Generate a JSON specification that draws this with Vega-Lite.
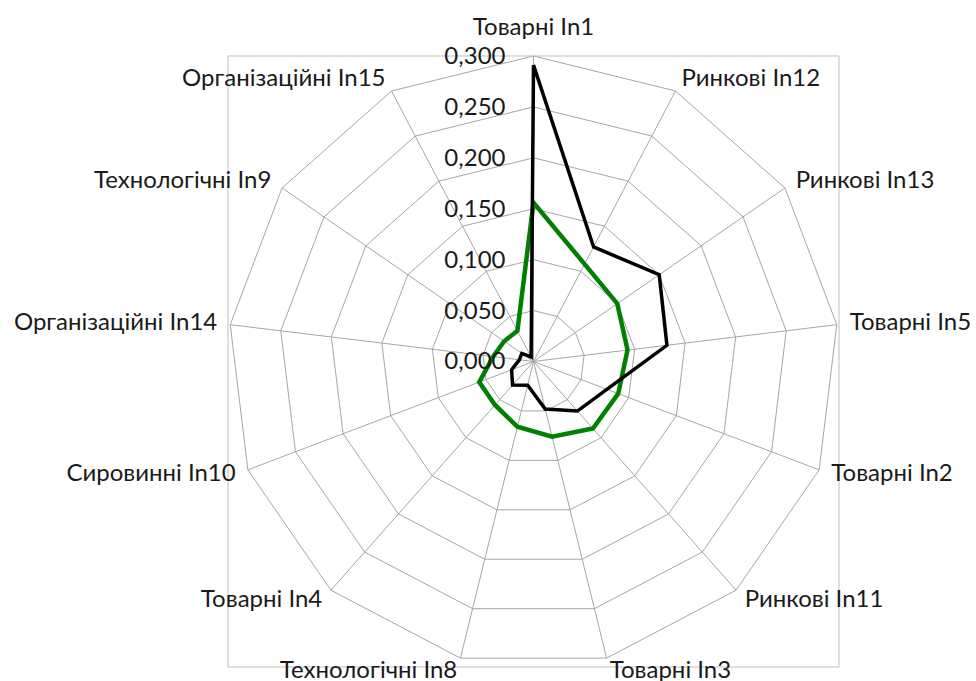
{
  "$schema": "https://vega.github.io/schema/vega-lite/v6.json",
  "width": 976,
  "height": 681,
  "autosize": {"type": "none"},
  "padding": 0,
  "background": "white",
  "config": {
    "view": {"stroke": null},
    "locale": {"number": {"decimal": ",", "thousands": " ", "grouping": [3], "currency": ["", ""]}},
    "text": {"font": "Lato", "fontSize": 24, "color": "#1a1a1a"}
  },
  "datasets": {
    "axes": [
      {"k": 0, "label": "Товарні In1"},
      {"k": 1, "label": "Ринкові In12"},
      {"k": 2, "label": "Ринкові In13"},
      {"k": 3, "label": "Товарні In5"},
      {"k": 4, "label": "Товарні In2"},
      {"k": 5, "label": "Ринкові In11"},
      {"k": 6, "label": "Товарні In3"},
      {"k": 7, "label": "Технологічні In8"},
      {"k": 8, "label": "Товарні In4"},
      {"k": 9, "label": "Сировинні In10"},
      {"k": 10, "label": "Організаційні In14"},
      {"k": 11, "label": "Технологічні In9"},
      {"k": 12, "label": "Організаційні In15"}
    ],
    "levels": [
      {"level": 0}, {"level": 0.05}, {"level": 0.1}, {"level": 0.15},
      {"level": 0.2}, {"level": 0.25}, {"level": 0.3}
    ],
    "series": [
      {"series": "Ряд1", "indicator": "Товарні In1", "value": 0.156},
      {"series": "Ряд1", "indicator": "Ринкові In12", "value": 0.108},
      {"series": "Ряд1", "indicator": "Ринкові In13", "value": 0.100},
      {"series": "Ряд1", "indicator": "Товарні In5", "value": 0.093},
      {"series": "Ряд1", "indicator": "Товарні In2", "value": 0.089},
      {"series": "Ряд1", "indicator": "Ринкові In11", "value": 0.088},
      {"series": "Ряд1", "indicator": "Товарні In3", "value": 0.076},
      {"series": "Ряд1", "indicator": "Технологічні In8", "value": 0.066},
      {"series": "Ряд1", "indicator": "Товарні In4", "value": 0.057},
      {"series": "Ряд1", "indicator": "Сировинні In10", "value": 0.057},
      {"series": "Ряд1", "indicator": "Організаційні In14", "value": 0.040},
      {"series": "Ряд1", "indicator": "Технологічні In9", "value": 0.035},
      {"series": "Ряд1", "indicator": "Організаційні In15", "value": 0.034},
      {"series": "Ряд2", "indicator": "Товарні In1", "value": 0.291},
      {"series": "Ряд2", "indicator": "Ринкові In12", "value": 0.127},
      {"series": "Ряд2", "indicator": "Ринкові In13", "value": 0.150},
      {"series": "Ряд2", "indicator": "Товарні In5", "value": 0.132},
      {"series": "Ряд2", "indicator": "Товарні In2", "value": 0.077},
      {"series": "Ряд2", "indicator": "Ринкові In11", "value": 0.065},
      {"series": "Ряд2", "indicator": "Товарні In3", "value": 0.048},
      {"series": "Ряд2", "indicator": "Технологічні In8", "value": 0.024},
      {"series": "Ряд2", "indicator": "Товарні In4", "value": 0.031},
      {"series": "Ряд2", "indicator": "Сировинні In10", "value": 0.023},
      {"series": "Ряд2", "indicator": "Організаційні In14", "value": 0.014},
      {"series": "Ряд2", "indicator": "Технологічні In9", "value": 0.014},
      {"series": "Ряд2", "indicator": "Організаційні In15", "value": 0.005}
    ]
  },
  "layer": [
    {
      "data": {"name": "axes"},
      "transform": [
        {"calculate": "[0.05, 0.1, 0.15, 0.2, 0.25, 0.3]", "as": "ring"},
        {"flatten": ["ring"]},
        {"calculate": "datum.k * 2 * PI / 13", "as": "theta"},
        {"calculate": "datum.ring * sin(datum.theta)", "as": "px"},
        {"calculate": "datum.ring * cos(datum.theta)", "as": "py"}
      ],
      "mark": {"type": "line", "interpolate": "linear-closed", "stroke": "#a6a6a6", "strokeWidth": 1},
      "encoding": {
        "x": {"field": "px", "type": "quantitative", "scale": {"domain": [-0.5239, 0.43453], "nice": false, "zero": false}, "axis": null},
        "y": {"field": "py", "type": "quantitative", "scale": {"domain": [-0.31375, 0.35499], "nice": false, "zero": false}, "axis": null},
        "detail": {"field": "ring", "type": "nominal"},
        "order": {"field": "k", "type": "quantitative"}
      }
    },
    {
      "data": {"name": "axes"},
      "transform": [
        {"calculate": "datum.k * 2 * PI / 13", "as": "theta"},
        {"calculate": "0.3 * sin(datum.theta)", "as": "px"},
        {"calculate": "0.3 * cos(datum.theta)", "as": "py"}
      ],
      "mark": {"type": "rule", "stroke": "#a6a6a6", "strokeWidth": 1},
      "encoding": {
        "x": {"field": "px", "type": "quantitative"},
        "y": {"field": "py", "type": "quantitative"},
        "x2": {"datum": 0},
        "y2": {"datum": 0}
      }
    },
    {
      "data": {"values": [{"frame": "plot"}]},
      "mark": {"type": "rect", "fill": null, "fillOpacity": 0, "stroke": "#bfbfbf", "strokeWidth": 1},
      "encoding": {
        "x": {"datum": -0.3, "type": "quantitative"},
        "x2": {"datum": 0.3},
        "y": {"datum": -0.3, "type": "quantitative"},
        "y2": {"datum": 0.3}
      }
    },
    {
      "data": {"name": "series"},
      "transform": [
        {"lookup": "indicator", "from": {"data": {"name": "axes"}, "key": "label", "fields": ["k"]}},
        {"calculate": "datum.k * 2 * PI / 13", "as": "theta"},
        {"calculate": "datum.value * sin(datum.theta)", "as": "px"},
        {"calculate": "datum.value * cos(datum.theta)", "as": "py"}
      ],
      "mark": {"type": "line", "interpolate": "linear-closed", "strokeJoin": "miter"},
      "encoding": {
        "x": {"field": "px", "type": "quantitative"},
        "y": {"field": "py", "type": "quantitative"},
        "color": {"field": "series", "type": "nominal", "scale": {"domain": ["Ряд1", "Ряд2"], "range": ["#008000", "#000000"]}, "legend": null},
        "strokeWidth": {"field": "series", "type": "nominal", "scale": {"domain": ["Ряд1", "Ряд2"], "range": [4.5, 3.5]}, "legend": null},
        "order": {"field": "k", "type": "quantitative"}
      }
    },
    {
      "data": {"name": "levels"},
      "mark": {"type": "text", "align": "right", "baseline": "middle", "dx": -28, "dy": 1},
      "encoding": {
        "x": {"datum": 0, "type": "quantitative"},
        "y": {"field": "level", "type": "quantitative"},
        "text": {"field": "level", "type": "quantitative", "format": ".3f"}
      }
    },
    {
      "data": {"name": "axes"},
      "transform": [
        {"calculate": "datum.k * 2 * PI / 13", "as": "theta"},
        {"calculate": "0.3128 * sin(datum.theta)", "as": "px"},
        {"calculate": "0.3128 * cos(datum.theta)", "as": "py"},
        {"filter": "datum.px > 0.001"}
      ],
      "mark": {"type": "text", "align": "left", "baseline": "middle"},
      "encoding": {
        "x": {"field": "px", "type": "quantitative"},
        "y": {"field": "py", "type": "quantitative"},
        "text": {"field": "label", "type": "nominal"}
      }
    },
    {
      "data": {"name": "axes"},
      "transform": [
        {"calculate": "datum.k * 2 * PI / 13", "as": "theta"},
        {"calculate": "0.3128 * sin(datum.theta)", "as": "px"},
        {"calculate": "0.3128 * cos(datum.theta)", "as": "py"},
        {"filter": "datum.px < -0.001"}
      ],
      "mark": {"type": "text", "align": "right", "baseline": "middle"},
      "encoding": {
        "x": {"field": "px", "type": "quantitative"},
        "y": {"field": "py", "type": "quantitative"},
        "text": {"field": "label", "type": "nominal"}
      }
    },
    {
      "data": {"name": "axes"},
      "transform": [
        {"calculate": "datum.k * 2 * PI / 13", "as": "theta"},
        {"calculate": "0.3128 * sin(datum.theta)", "as": "px"},
        {"calculate": "0.3128 * cos(datum.theta)", "as": "py"},
        {"filter": "abs(datum.px) <= 0.001"}
      ],
      "mark": {"type": "text", "align": "center", "baseline": "alphabetic", "dy": -8},
      "encoding": {
        "x": {"field": "px", "type": "quantitative"},
        "y": {"field": "py", "type": "quantitative"},
        "text": {"field": "label", "type": "nominal"}
      }
    }
  ]
}
